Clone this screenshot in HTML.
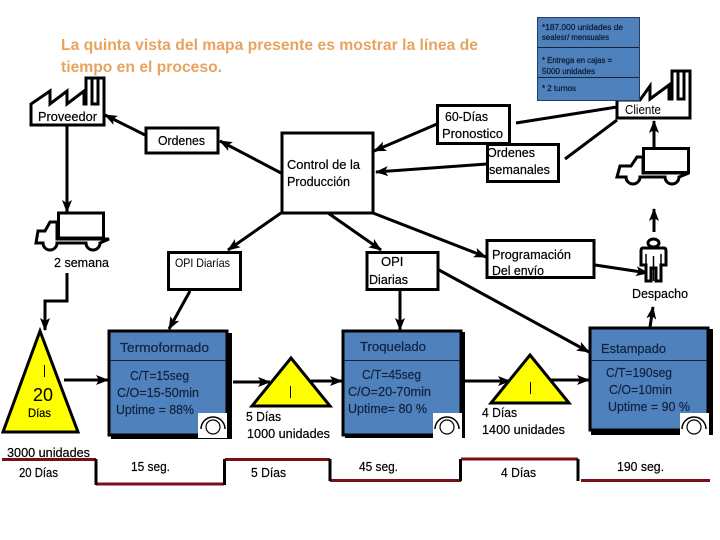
<!DOCTYPE html>
<html><head><meta charset="utf-8"><style>
html,body{margin:0;padding:0;background:#fff}
svg{display:block}
text{font-family:"Liberation Sans","DejaVu Sans",sans-serif;fill:#000}
.t{font-size:13px;stroke:#000;stroke-width:.2}
.b{fill:#10233f;font-size:13px;stroke:#10233f;stroke-width:.2}
.i{font-size:8px;fill:#0d1a30;stroke:#0d1a30;stroke-width:.2}
.box{fill:#fff;stroke:#000;stroke-width:3}
.l{stroke:#000;stroke-width:3;fill:none}
.s{fill:#fff;stroke:#000;stroke-width:3}
.red{stroke:#7a0f14;stroke-width:3;fill:none}
.blk{stroke:#000;stroke-width:3;fill:none}
</style></head><body>
<svg width="720" height="540" viewBox="0 0 720 540" xmlns="http://www.w3.org/2000/svg">
<defs>
<marker id="a" markerUnits="userSpaceOnUse" markerWidth="14" markerHeight="12" refX="12" refY="5" orient="auto"><path d="M0 0L13 5L0 10L3 5Z" fill="#000"/></marker>
</defs>
<rect width="720" height="540" fill="#fff"/>
<text x="61" y="50" font-size="16" font-weight="bold" style="fill:#e8a45f" textLength="417" lengthAdjust="spacingAndGlyphs">La quinta vista del mapa presente es mostrar la línea de</text>
<text x="61" y="72" font-size="16" font-weight="bold" style="fill:#e8a45f" textLength="161" lengthAdjust="spacingAndGlyphs">tiempo en el proceso.</text>

<!-- left factory -->
<path class="s" d="M31 125V104L50 91V104L67 91V104L84 91V104H86V78H104V125Z"/>
<path class="l" d="M92 78V104H98V78"/>
<text x="38" y="121" class="t" textLength="59" lengthAdjust="spacingAndGlyphs">Proveedor</text>

<!-- connectors -->
<g class="l">
<path d="M145 135L105 115" marker-end="url(#a)"/>
<path d="M281 173L220 141" marker-end="url(#a)"/>
<path d="M67 126V212" marker-end="url(#a)"/>
<path d="M67 273V301H45V330" marker-end="url(#a)"/>
<path d="M437 124L374 151" marker-end="url(#a)"/>
<path d="M487 164L376 172" marker-end="url(#a)"/>
<path d="M617 107L516 123"/>
<path d="M617 120L565 159"/>
<path d="M281 213L228 250" marker-end="url(#a)"/>
<path d="M328 213L381 250" marker-end="url(#a)"/>
<path d="M373 213L486 257" marker-end="url(#a)"/>
<path d="M190 291L169 329" marker-end="url(#a)"/>
<path d="M400 290V330" marker-end="url(#a)"/>
<path d="M439 270L589 352" marker-end="url(#a)"/>
<path d="M595 265L648 273" marker-end="url(#a)"/>
<path d="M650 327L653 307" marker-end="url(#a)"/>
<path d="M654 232V209" marker-end="url(#a)"/>
<path d="M654 147V121" marker-end="url(#a)"/>
<path d="M64 380H108" marker-end="url(#a)"/>
<path d="M233 382H270" marker-end="url(#a)"/>
<path d="M311 381H342" marker-end="url(#a)"/>
<path d="M460 381H510" marker-end="url(#a)"/>
<path d="M550 380H589" marker-end="url(#a)"/>
</g>

<!-- left truck -->
<path class="s" d="M57 222H50L45 231H38L36 243H43A7 7 0 0 0 57 243H86A7 7 0 0 0 100 243L109 239H57Z"/>
<rect x="58.500" y="213" width="45" height="25" class="s"/>
<text x="54" y="267" class="t" textLength="55" lengthAdjust="spacingAndGlyphs">2 semana</text>

<!-- boxes -->
<rect x="146" y="128" width="72" height="25" class="box"/>
<text x="158" y="145" class="t" textLength="47" lengthAdjust="spacingAndGlyphs">Ordenes</text>
<rect x="282" y="133" width="91" height="80" class="box"/>
<text x="287" y="169" class="t" textLength="73" lengthAdjust="spacingAndGlyphs">Control de la</text>
<text x="287" y="186" class="t" textLength="63" lengthAdjust="spacingAndGlyphs">Producción</text>
<rect x="168.500" y="252.500" width="72" height="37" class="box"/>
<text x="175" y="267" font-size="12" textLength="55" lengthAdjust="spacingAndGlyphs">OPI Diarías</text>
<rect x="367" y="252.500" width="71" height="37" class="box"/>
<text x="381" y="266" class="t">OPI</text>
<text x="369" y="284" class="t" textLength="39" lengthAdjust="spacingAndGlyphs">Diarias</text>
<rect x="487" y="240.500" width="107" height="37" class="box"/>
<text x="492" y="259" class="t" textLength="79" lengthAdjust="spacingAndGlyphs">Programación</text>
<text x="492" y="275" class="t" textLength="52" lengthAdjust="spacingAndGlyphs">Del envío</text>
<rect x="437.500" y="105.500" width="72" height="38" class="box"/>
<text x="445" y="121" class="t" textLength="43" lengthAdjust="spacingAndGlyphs">60-Días</text>
<text x="442" y="138" class="t" textLength="61" lengthAdjust="spacingAndGlyphs">Pronostico</text>
<rect x="487.500" y="144.500" width="71" height="37" class="box"/>
<text x="487" y="157" class="t" textLength="48" lengthAdjust="spacingAndGlyphs">Ordenes</text>
<text x="489" y="174" class="t" textLength="61" lengthAdjust="spacingAndGlyphs">semanales</text>

<!-- right factory -->
<path class="s" d="M617 118V100H640L650 86V99L669 85V99H672V71H690V118Z"/>
<path class="l" d="M678 71V99H684V71"/>
<text x="625" y="114" font-size="12.500" textLength="36" lengthAdjust="spacingAndGlyphs">Cliente</text>

<!-- info box -->
<rect x="537.500" y="17.500" width="102" height="83" fill="#4f81bd" stroke="#233f66" stroke-width="1"/>
<path d="M538 47.500H639M538 77.500H639" stroke="#14243c"/>
<text x="542" y="30" class="i" textLength="81" lengthAdjust="spacingAndGlyphs">*187.000 unidades de</text>
<text x="542" y="40" class="i" textLength="67" lengthAdjust="spacingAndGlyphs">sealesr/ mensuales</text>
<text x="542" y="63" class="i" textLength="70" lengthAdjust="spacingAndGlyphs">* Entrega en cajas =</text>
<text x="542" y="74" class="i" textLength="53" lengthAdjust="spacingAndGlyphs">5000 unidades</text>
<text x="542" y="91" class="i" textLength="34" lengthAdjust="spacingAndGlyphs">* 2 turnos</text>

<!-- right truck -->
<path class="s" d="M643 157H637L631 166H620L617 177H626A7 7 0 0 0 640 177H665A7 7 0 0 0 679 177L689 173H643Z"/>
<rect x="643.500" y="148.500" width="45" height="24" class="s"/>

<!-- person -->
<ellipse cx="653.500" cy="243" rx="5.500" ry="4" class="s" stroke-width="2.500"/>
<path class="s" d="M643 248H664Q666 248 666 251V265H661V281H656V268H651V281H646V265H641V251Q641 248 643 248Z" stroke-width="2.500"/>
<path d="M646 254V265M661 254V265M653.500 256V281" stroke="#000" stroke-width="1.500" fill="none"/>
<text x="632" y="298" class="t" textLength="56" lengthAdjust="spacingAndGlyphs">Despacho</text>

<!-- process boxes -->
<g>
<rect x="111" y="333" width="121" height="106" fill="#000"/>
<rect x="109" y="331" width="118" height="104" fill="#4f81bd" stroke="#000" stroke-width="3"/>
<path d="M110 360.500H226" stroke="#14243c"/>
<text x="120" y="352" class="b" textLength="89" lengthAdjust="spacingAndGlyphs">Termoformado</text>
<text x="130" y="380" class="b" textLength="59" lengthAdjust="spacingAndGlyphs">C/T=15seg</text>
<text x="117" y="397" class="b" textLength="82" lengthAdjust="spacingAndGlyphs">C/O=15-50min</text>
<text x="116" y="414" class="b" textLength="78" lengthAdjust="spacingAndGlyphs">Uptime = 88%</text>
<rect x="198" y="413" width="29" height="25" fill="#fff"/>
<circle cx="213" cy="427" r="7" fill="none" stroke="#000" stroke-width="1.200"/>
<path d="M201 429A12 12 0 0 1 225 429" fill="none" stroke="#000" stroke-width="1.500"/>

<rect x="345" y="332" width="120" height="106" fill="#000"/>
<rect x="343" y="331" width="118" height="104" fill="#4f81bd" stroke="#000" stroke-width="3"/>
<path d="M344 360.500H460" stroke="#14243c"/>
<text x="360" y="351" class="b" textLength="66" lengthAdjust="spacingAndGlyphs">Troquelado</text>
<text x="362" y="379" class="b" textLength="59" lengthAdjust="spacingAndGlyphs">C/T=45seg</text>
<text x="348" y="396" class="b" textLength="83" lengthAdjust="spacingAndGlyphs">C/O=20-70min</text>
<text x="348" y="413" class="b" textLength="79" lengthAdjust="spacingAndGlyphs">Uptime= 80 %</text>
<rect x="433" y="413" width="29" height="25" fill="#fff"/>
<circle cx="447" cy="427" r="7" fill="none" stroke="#000" stroke-width="1.200"/>
<path d="M435 429A12 12 0 0 1 459 429" fill="none" stroke="#000" stroke-width="1.500"/>

<rect x="591" y="329" width="122" height="106" fill="#000"/>
<rect x="590" y="328" width="118" height="102" fill="#4f81bd" stroke="#000" stroke-width="3"/>
<path d="M591 360.500H707" stroke="#14243c"/>
<text x="601" y="353" class="b" textLength="65" lengthAdjust="spacingAndGlyphs">Estampado</text>
<text x="606" y="377" class="b" textLength="66" lengthAdjust="spacingAndGlyphs">C/T=190seg</text>
<text x="609" y="394" class="b" textLength="63" lengthAdjust="spacingAndGlyphs">C/O=10min</text>
<text x="608" y="411" class="b" textLength="82" lengthAdjust="spacingAndGlyphs">Uptime = 90 %</text>
<rect x="680" y="413" width="29" height="25" fill="#fff"/>
<circle cx="694" cy="427" r="7" fill="none" stroke="#000" stroke-width="1.200"/>
<path d="M682 429A12 12 0 0 1 706 429" fill="none" stroke="#000" stroke-width="1.500"/>
</g>

<!-- triangles -->
<path d="M40 331L78 432H3Z" fill="#ffff00" stroke="#000" stroke-width="3"/>
<path d="M44.500 365V377" stroke="#000" stroke-width="1"/>
<text x="33" y="401" font-size="18" textLength="20" lengthAdjust="spacingAndGlyphs">20</text>
<text x="28" y="417" font-size="12" textLength="23" lengthAdjust="spacingAndGlyphs" stroke="#000" stroke-width=".2">Días</text>
<path d="M291 358L330 406H252Z" fill="#ffff00" stroke="#000" stroke-width="3"/>
<path d="M290.500 386V398" stroke="#000" stroke-width="1"/>
<path d="M530 355L569 403H491Z" fill="#ffff00" stroke="#000" stroke-width="3"/>
<path d="M530.500 382V394" stroke="#000" stroke-width="1"/>

<text x="246" y="421" class="t" textLength="35" lengthAdjust="spacingAndGlyphs">5 Días</text>
<text x="247" y="438" class="t" textLength="83" lengthAdjust="spacingAndGlyphs">1000 unidades</text>
<text x="482" y="417" class="t" textLength="35" lengthAdjust="spacingAndGlyphs">4 Días</text>
<text x="482" y="434" class="t" textLength="83" lengthAdjust="spacingAndGlyphs">1400 unidades</text>

<!-- timeline -->
<path class="red" d="M2 459.500H96M96 484H224M225 459.500H330M330 480.500H461M461 459H578M581 480.500H710"/>
<path class="blk" d="M96 459V485M224.500 459V485M330 459V481M460.500 459V481M578 459V481"/>
<text x="7" y="457" class="t" textLength="83" lengthAdjust="spacingAndGlyphs">3000 unidades</text>
<text x="19" y="477" class="t" textLength="39" lengthAdjust="spacingAndGlyphs">20 Días</text>
<text x="131" y="471" class="t" textLength="39" lengthAdjust="spacingAndGlyphs">15 seg.</text>
<text x="251" y="477" class="t" textLength="35" lengthAdjust="spacingAndGlyphs">5 Días</text>
<text x="359" y="471" class="t" textLength="39" lengthAdjust="spacingAndGlyphs">45 seg.</text>
<text x="501" y="477" class="t" textLength="35" lengthAdjust="spacingAndGlyphs">4 Días</text>
<text x="617" y="471" class="t" textLength="47" lengthAdjust="spacingAndGlyphs">190 seg.</text>
</svg>
</body></html>
